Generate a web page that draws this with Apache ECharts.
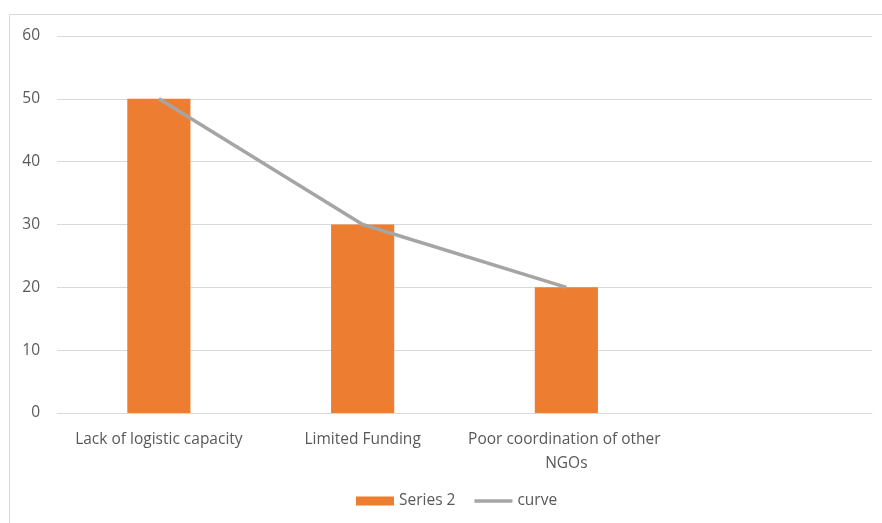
<!DOCTYPE html>
<html>
<head>
<meta charset="utf-8">
<script src="https://cdn.jsdelivr.net/npm/echarts@6/dist/echarts.min.js"></script>
<style>
html, body { margin: 0; padding: 0; background: #fff; }
#chart { width: 882px; height: 523px; }
</style>
</head>
<body>
<div id="chart"></div>
<script>
// data
var categories = ['Lack of logistic capacity', 'Limited Funding', 'Poor coordination of other NGOs', ''];
var series2Values = [50, 30, 20, null];
var curveValues = [50, 30, 20, null];
var yTicks = [0, 10, 20, 30, 40, 50, 60];

var chart = echarts.init(document.getElementById('chart'), null, { renderer: 'canvas' });
var font = 'Open Sans';

var option = {
    animation: false,
    graphic: [{
        type: 'rect',
        shape: { x: 9.5, y: 14.5, width: 900, height: 520 },
        style: { fill: 'none', stroke: '#d9d9d9', lineWidth: 1 },
        silent: true
    }],
    grid: { left: 57, right: 10, top: 36, bottom: 110 },
    xAxis: {
        type: 'category',
        data: categories,
        axisLine: { lineStyle: { color: '#d9d9d9' } },
        axisTick: { show: false },
        axisLabel: {
            color: '#595959', fontFamily: font, fontSize: 15.5, margin: 15,
            interval: 0, width: 205, overflow: 'break', lineHeight: 24
        }
    },
    yAxis: {
        type: 'value',
        min: yTicks[0],
        max: yTicks[yTicks.length - 1],
        interval: 10,
        axisLine: { show: false },
        axisTick: { show: false },
        splitLine: { lineStyle: { color: '#d9d9d9' } },
        axisLabel: { color: '#595959', fontFamily: font, fontSize: 15.5, margin: 17 }
    },
    legend: {
        bottom: 9,
        left: 351,
        itemWidth: 38,
        itemHeight: 9,
        itemGap: 19,
        textStyle: { color: '#595959', fontFamily: font, fontSize: 15.5 },
        data: [
            { name: 'Series 2', icon: 'rect' },
            { name: 'curve', icon: 'path://M0,0H42V4H0Z' }
        ]
    },
    series: [
        {
            name: 'Series 2',
            type: 'bar',
            data: series2Values,
            barWidth: '31%',
            itemStyle: { color: '#ed7d31' }
        },
        {
            name: 'curve',
            type: 'line',
            data: curveValues,
            symbol: 'none',
            lineStyle: { color: '#a5a5a5', width: 3.5 },
            itemStyle: { color: '#a5a5a5' }
        }
    ]
};

chart.setOption(option);
window.addEventListener('resize', chart.resize);
</script>
</body>
</html>
